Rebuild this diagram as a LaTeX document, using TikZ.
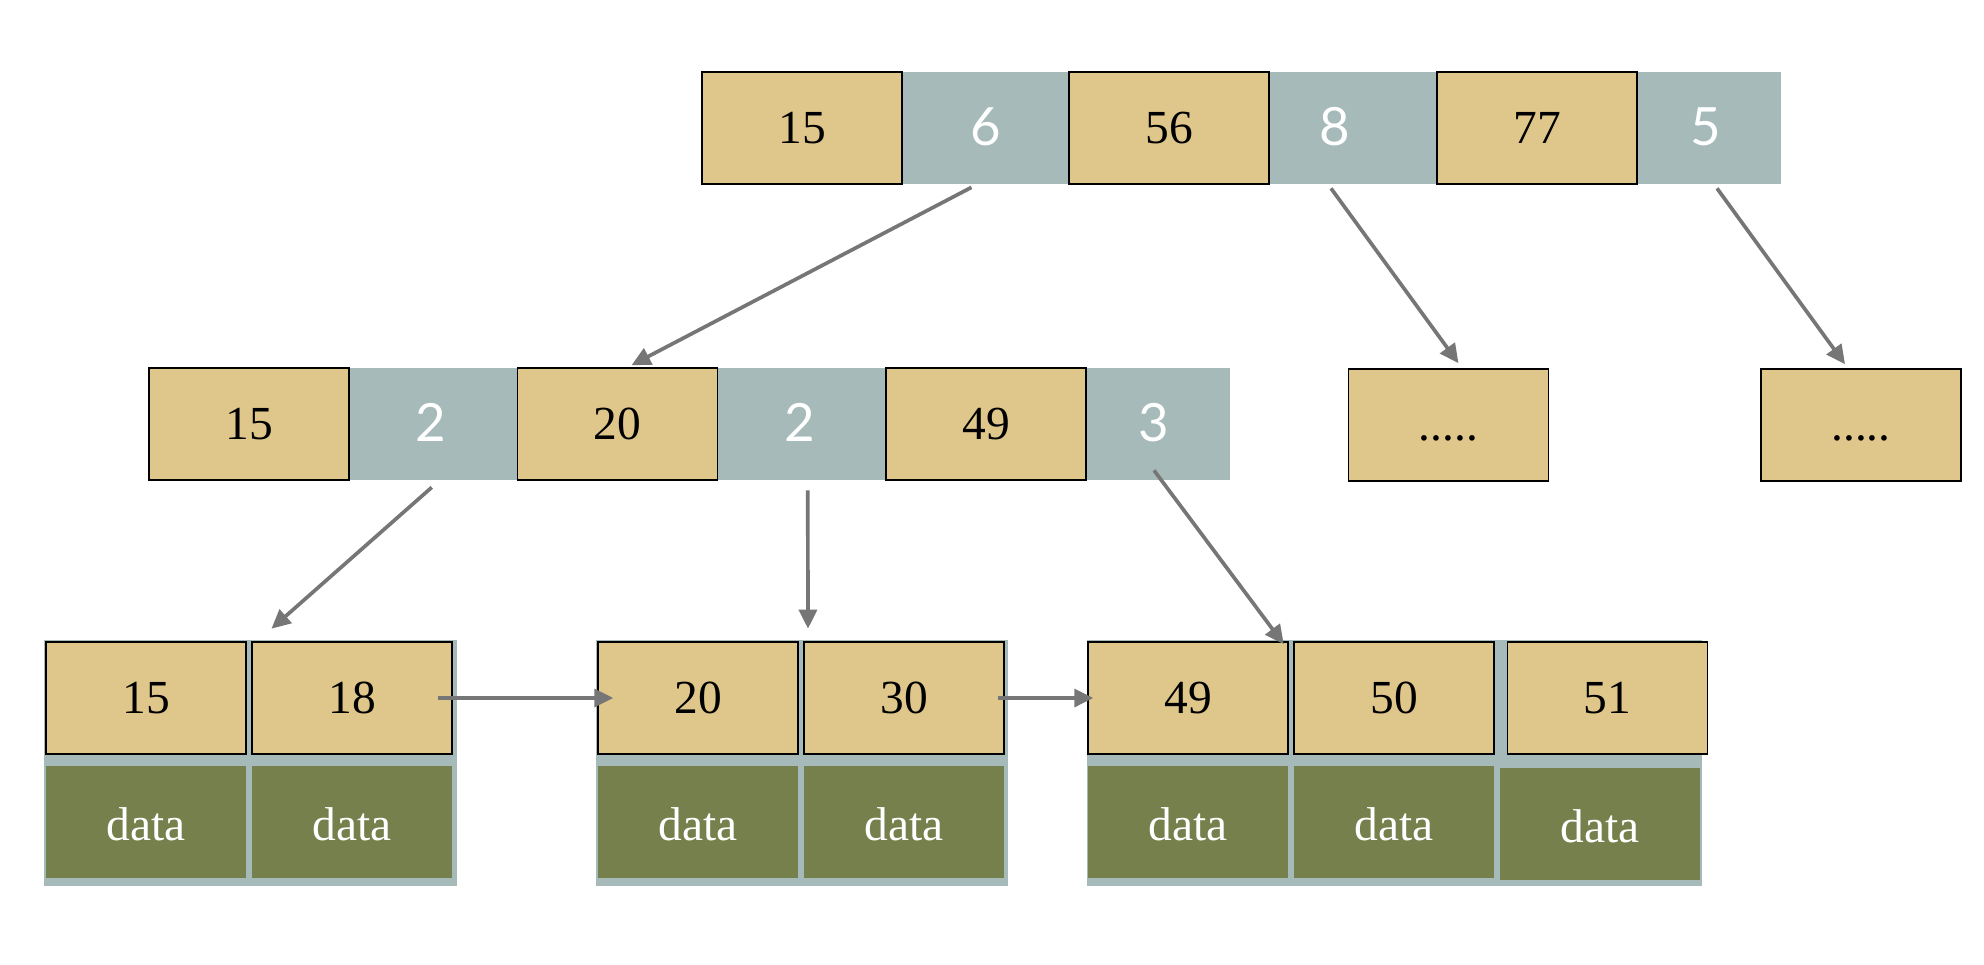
\documentclass[tikz,border=0pt]{standalone}
\usepackage{fontspec}
\setmainfont{Liberation Serif}
\newfontfamily\numfont{Lato}
\usetikzlibrary{arrows.meta,calc}
\definecolor{keytan}{HTML}{DFC68A}
\definecolor{ptrgray}{HTML}{A6BABA}
\definecolor{datagreen}{HTML}{76804C}
\definecolor{linkgray}{HTML}{767676}

\begin{document}
\begin{tikzpicture}[x=0.02cm,y=-0.02cm,
  key/.style={draw=black,line width=0.9pt,fill=keytan,inner sep=0pt,
    minimum width=4cm,minimum height=2.24cm,
    font=\fontsize{27}{32}\selectfont,text height=18.1pt,text depth=0pt},
  ptr/.style={fill=ptrgray,inner sep=0pt,minimum height=2.24cm},
  ptrlabel/.style={inner sep=0pt,text=white,
    font=\numfont\fontsize{30}{36}\selectfont,text height=20.4pt,text depth=0pt},
  datacell/.style={fill=datagreen,inner sep=0pt,minimum width=4cm,minimum height=2.24cm,
    text=white,font=\fontsize{27}{32}\selectfont,text height=21.6pt,text depth=0pt},
  leafbg/.style={fill=ptrgray,inner sep=0pt,minimum height=4.92cm},
  link/.style={draw=linkgray,line width=2.1pt,-{Triangle[length=10.8pt,width=10.2pt]}}
]
\useasboundingbox (0,0) rectangle (1984,964);

% ---- root node ----
\node[ptr,minimum width=3.34cm] (p6) at (985.5,128) {};
\node[ptr,minimum width=3.36cm] (p8) at (1353,128) {};
\node[ptr,minimum width=2.88cm] (p5) at (1709,128) {};
\node[key] (r15) at (802,128) {15};
\node[key] (r56) at (1169,128) {56};
\node[key] (r77) at (1537,128) {77};
\node[ptrlabel] (p6t) at ($(p6)+(0,0)$) {6};
\node[ptrlabel] (p8t) at ($(p8)+(-18,0)$) {8};
\node[ptrlabel] (p5t) at ($(p5)+(-3,0)$) {5};

% ---- inner nodes ----
\node[ptr,minimum width=3.37cm] (q2a) at (433.25,424) {};
\node[ptr,minimum width=3.37cm] (q2b) at (801.75,424) {};
\node[ptr,minimum width=2.88cm] (q3) at (1158,424) {};
\node[key] (m15) at (249,424) {15};
\node[key] (m20) at (617.5,424) {20};
\node[key] (m49) at (986,424) {49};
\node[ptrlabel] (q2at) at ($(q2a)+(-2,0)$) {2};
\node[ptrlabel] (q2bt) at ($(q2b)+(-2,0)$) {2};
\node[ptrlabel] (q3t) at ($(q3)+(-4,0)$) {3};

\node[key] (d1) at (1448.5,425) {.....};
\node[key] (d2) at (1861,425) {.....};

% ---- leaves ----
\node[leafbg,minimum width=8.26cm] (g1) at (250.5,763) {};
\node[leafbg,minimum width=8.24cm] (g2) at (802,763) {};
\node[leafbg,minimum width=12.3cm] (g3) at (1394.5,763) {};

\node[key] (b15) at (146,698) {15};
\node[key] (b18) at (352,698) {18};
\node[key] (b20) at (698,698) {20};
\node[key] (b30) at (904,698) {30};
\node[key] (b49) at (1188,698) {49};
\node[key] (b50) at (1394,698) {50};
\node[key] (b51) at (1607.5,698) {51};

\node[datacell] (v15) at (146,822) {data};
\node[datacell] (v18) at (352,822) {data};
\node[datacell] (v20) at (698,822) {data};
\node[datacell] (v30) at (904,822) {data};
\node[datacell] (v49) at (1188,822) {data};
\node[datacell] (v50) at (1394,822) {data};
\node[datacell] (v51) at (1600,824) {data};

% ---- child pointers ----
\draw[link] ($(p6.south)+(-14,3)$) -- ($(m20.north)+(14,-2)$);
\draw[link] ($(p8.south)+(-22,4)$) -- ($(d1.north)+(10,-5)$);
\draw[link] ($(p5.south)+(8,4)$) -- ($(d2.north)+(-16,-4)$);
\draw[link] ($(q2a.south)+(-1.5,7)$) -- ($(g1.north)+(21,-11)$);
\draw[link] ($(q2b.south)+(6,10)$) -- ($(g2.north)+(6,-11)$);
\draw[link] ($(q3.south)+(-4,-10)$) -- ($(b49.north east)+(-5,3)$);

% ---- leaf chain ----
\draw[link] ($(b18.east)+(-15,0)$) -- ($(b20.west)+(16,0)$);
\draw[link] ($(b30.east)+(-7,0)$) -- ($(b49.west)+(6,0)$);
\end{tikzpicture}
\end{document}
